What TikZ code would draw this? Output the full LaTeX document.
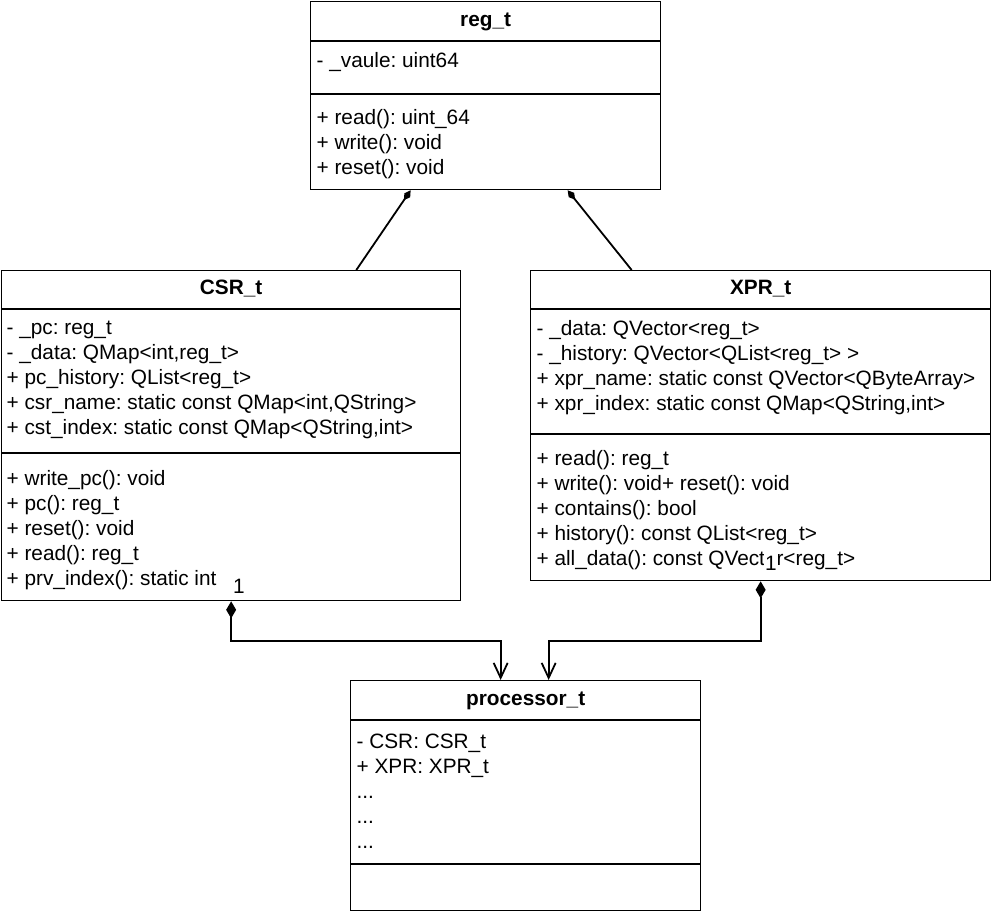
\documentclass[tikz,border=0pt]{standalone}
\usepackage{fontspec}
\setmainfont{Liberation Sans}
\usetikzlibrary{arrows.meta, positioning}
\frenchspacing

\begin{document}
\begin{tikzpicture}[
		x=1pt, y=-1pt,
		line width=1.3pt,
		font=\fontsize{20.8}{25}\selectfont,
		classbox/.style = {draw, rectangle, inner sep=0pt, anchor=north west},
		title/.style = {font=\fontsize{20.8}{25}\selectfont\bfseries, anchor=base},
		members/.style = {align=left, anchor=north west, inner sep=0pt},
		mult/.style = {fill=white, inner sep=1.5pt, text height=20pt, text depth=0pt, anchor=base},
		comp/.style = {line width=1.8pt, -{Diamond[length=12pt, width=7pt]}},
		owned/.style = {line width=1.8pt, {Diamond[length=17pt, width=10pt]}-{Straight Barb[length=15pt, width=14pt]}}
		]
		\useasboundingbox (0,0) rectangle (991,914);
		
		% Clases
		\node[classbox, minimum width=350pt, minimum height=188pt] (reg) at (310,1) {};
		\node[classbox, minimum width=459pt, minimum height=330pt] (csr) at (1,270) {};
		\node[classbox, minimum width=460pt, minimum height=310pt] (xpr) at (530,270) {};
		\node[classbox, minimum width=350pt, minimum height=230pt] (proc) at (350,680) {};
		
		\node[title] (regname) at ([yshift=-25pt]reg.north) {reg\_t};
		\node[title] (csrname) at ([yshift=-24pt]csr.north) {CSR\_t};
		\node[title] (xprname) at ([yshift=-24pt]xpr.north) {XPR\_t};
		\node[title] (procname) at ([yshift=-25pt]proc.north) {processor\_t};
		
		% Separadores
		\draw ([yshift=-40pt]reg.north west) -- ([yshift=-40pt]reg.north east);
		\draw ([yshift=-93pt]reg.north west) -- ([yshift=-93pt]reg.north east);
		\draw ([yshift=-39pt]csr.north west) -- ([yshift=-39pt]csr.north east);
		\draw ([yshift=-183pt]csr.north west) -- ([yshift=-183pt]csr.north east);
		\draw ([yshift=-39pt]xpr.north west) -- ([yshift=-39pt]xpr.north east);
		\draw ([yshift=-164pt]xpr.north west) -- ([yshift=-164pt]xpr.north east);
		\draw ([yshift=-40pt]proc.north west) -- ([yshift=-40pt]proc.north east);
		\draw ([yshift=-184pt]proc.north west) -- ([yshift=-184pt]proc.north east);
		
		% Miembros
		\node[members] (regattr) at (316,49.5) {\strut- \_vaule: uint64};
		\node[members] (regops) at (316,106.5) {\strut+ read(): uint\_64\\+ write(): void\\+ reset(): void};
		\node[members] (csrattr) at (6,316.5) {\strut- \_pc: reg\_t\\- \_data: QMap<int,reg\_t>\\+ pc\_history: QList<reg\_t>\\+ csr\_name: static const QMap<int,QString>\\+ cst\_index: static const QMap<QString,int>};
		\node[members] (csrops) at (6,467.5) {\strut+ write\_pc(): void\\+ pc(): reg\_t\\+ reset(): void\\+ read(): reg\_t\\+ prv\_index(): static int};
		\node[members] (xprattr) at (536,317.5) {\strut- \_data: QVector<reg\_t>\\- \_history: QVector<QList<reg\_t> >\\+ xpr\_name: static const QVector<QByteArray>\\+ xpr\_index: static const QMap<QString,int>};
		\node[members] (xprops) at (536,447.5) {\strut+ read(): reg\_t\\+ write(): void+ reset(): void\\+ contains(): bool\\+ history(): const QList<reg\_t>\\+ all\_data(): const QVector<reg\_t>};
		\node[members] (procattr) at (356,730.5) {\strut- CSR: CSR\_t\\+ XPR: XPR\_t\\...\\...\\...};
		
		% Conexiones
		\draw[comp] ([xshift=-105pt]csr.north east) -- ([xshift=-75pt]reg.south);
		\draw[comp] ([xshift=-129pt]xpr.north) -- ([xshift=82pt]reg.south);
		\draw[owned] (csr.south) -- ++(0,40) -| ([xshift=-25pt]proc.north);
		\draw[owned] (xpr.south) -- ++(0,60) -| ([xshift=23pt]proc.north);
		\node[mult] (csrmult) at (239,593) {1};
		\node[mult] (xprmult) at (771,570) {1};
	\end{tikzpicture}
\end{document}
